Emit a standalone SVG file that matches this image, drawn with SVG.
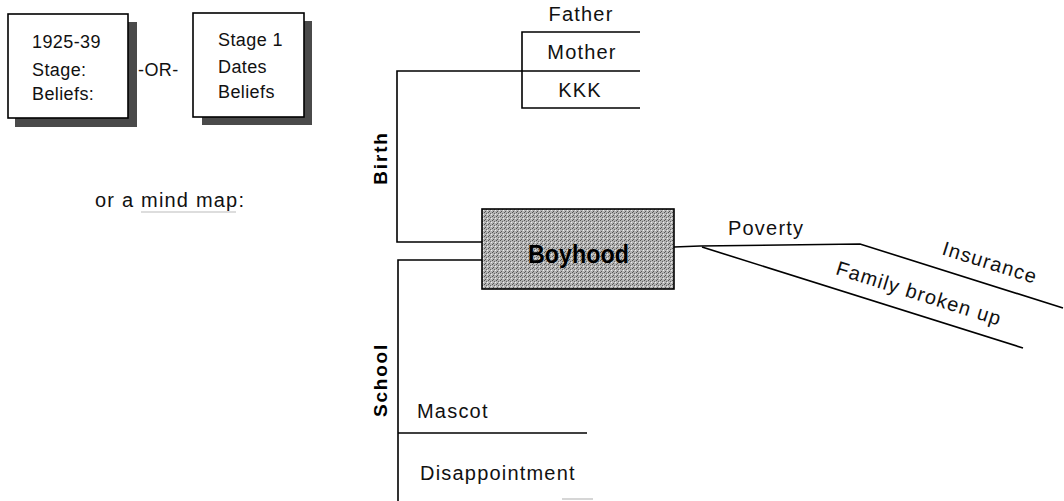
<svg xmlns="http://www.w3.org/2000/svg" width="1064" height="501" viewBox="0 0 1064 501">
<style>
.bg{fill:#ffffff}
.box{fill:#ffffff;stroke:#000;stroke-width:1.6}
.shadow{fill:#4a4a4a}
.t{font-family:"Liberation Sans",Arial,sans-serif;font-size:18px;fill:#111;letter-spacing:0.4px}
.lbl{font-family:"Liberation Sans",Arial,sans-serif;font-size:20px;fill:#111;letter-spacing:1.2px}
.bold{font-family:"Liberation Sans",Arial,sans-serif;font-weight:bold;fill:#000}
.ln{stroke:#000;stroke-width:1.6;fill:none}
.faint{stroke:#bbb;stroke-width:1.2;fill:none}
</style>
<defs>
<pattern id="stip" width="4" height="4" patternUnits="userSpaceOnUse">
<rect width="4" height="4" fill="#b4b4b4"/>
<rect x="0" y="0" width="1" height="1" fill="#555"/>
<rect x="2" y="1" width="1" height="1" fill="#666"/>
<rect x="1" y="3" width="1" height="1" fill="#555"/>
<rect x="3" y="2" width="1" height="1" fill="#eee"/>
</pattern>
</defs>
<rect class="bg" width="1064" height="501"/>

<g id="box-dates">
<rect class="shadow" x="128" y="22" width="9" height="105"/>
<rect class="shadow" x="15" y="118" width="122" height="9"/>
<rect class="box" x="8" y="14" width="120" height="104"/>
<text class="t" x="32" y="48">1925-39</text>
<text class="t" x="32" y="76">Stage:</text>
<text class="t" x="32" y="100">Beliefs:</text>
</g>

<g id="or-label">
<text class="t" x="138" y="76">-OR-</text>
</g>

<g id="box-stage">
<rect class="shadow" x="304" y="21" width="8" height="104"/>
<rect class="shadow" x="202" y="117" width="110" height="8"/>
<rect class="box" x="193" y="13" width="111" height="104"/>
<text class="t" x="218" y="46">Stage 1</text>
<text class="t" x="218" y="73">Dates</text>
<text class="t" x="218" y="98">Beliefs</text>
</g>

<g id="mindmap-caption">
<text class="lbl" x="95" y="207">or a mind map:</text>
<line class="faint" x1="141" y1="212" x2="236" y2="212"/>
</g>

<g id="connectors">
<polyline class="ln" points="482,242 397,242 397,71 640,71"/>
<polyline class="ln" points="640,32 522,32 522,108 640,108"/>
<polyline class="ln" points="482,260 398,260 398,501"/>
<line class="ln" x1="398" y1="433" x2="587" y2="433"/>
<polyline class="ln" points="674,247 700,246 860,244 1063,308"/>
<line class="ln" x1="702" y1="247" x2="1023" y2="348"/>
<line class="faint" x1="562" y1="499" x2="593" y2="499"/>
</g>

<g id="node-boyhood">
<rect x="482" y="209" width="192" height="80" fill="url(#stip)" stroke="#000" stroke-width="1.6"/>
<text class="bold" x="528" y="263" font-size="26" textLength="101" lengthAdjust="spacingAndGlyphs">Boyhood</text>
</g>

<g id="node-birth">
<text class="bold" x="0" y="0" font-size="19" letter-spacing="1.8" text-anchor="middle" transform="translate(387,158) rotate(-90)">Birth</text>
</g>
<g id="node-father"><text class="lbl" x="581" y="21" text-anchor="middle">Father</text></g>
<g id="node-mother"><text class="lbl" x="582" y="59" text-anchor="middle">Mother</text></g>
<g id="node-kkk"><text class="lbl" x="580" y="97" text-anchor="middle">KKK</text></g>

<g id="node-school">
<text class="bold" x="0" y="0" font-size="19" letter-spacing="1.8" text-anchor="middle" transform="translate(387,380) rotate(-90)">School</text>
</g>
<g id="node-mascot"><text class="lbl" x="417" y="418">Mascot</text></g>
<g id="node-disappointment"><text class="lbl" x="420" y="480">Disappointment</text></g>

<g id="node-poverty"><text class="lbl" x="728" y="235">Poverty</text></g>
<g id="node-insurance"><text class="lbl" x="0" y="0" text-anchor="middle" transform="translate(988,269) rotate(17.5)">Insurance</text></g>
<g id="node-family"><text class="lbl" x="0" y="0" text-anchor="middle" transform="translate(917,300) rotate(17.5)">Family broken up</text></g>
</svg>
